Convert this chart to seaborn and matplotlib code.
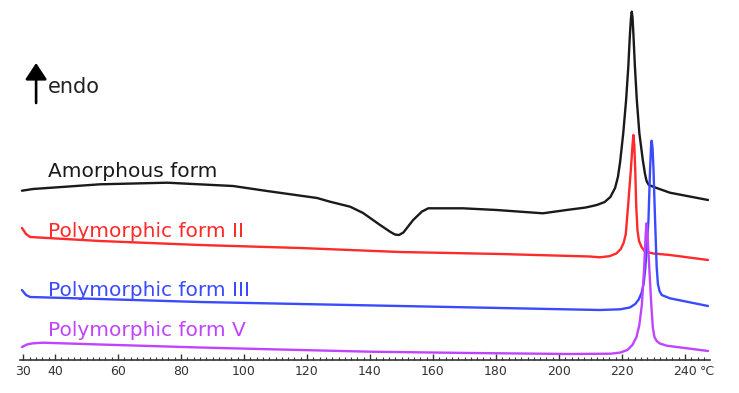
import matplotlib
matplotlib.use("Agg")
import matplotlib.pyplot as plt
import seaborn as sns
import pandas as pd

# ---- data (temperature in °C, heat flow in arbitrary stacked units, endo up) ----
amorphous_T = [29.5, 33.0, 54.3, 75.6, 96.5, 107.3, 123.2, 127.3, 133.7, 137.8, 143.2, 146.5, 147.9,
               149.2, 150.6, 153.7, 156.5, 158.5, 169.5, 180.2, 194.9, 202.4, 208.5, 212.0, 214.5,
               216.3, 217.8, 218.7, 219.4, 220.4, 221.3, 222.0, 222.5, 222.85, 223.1, 223.35, 223.6,
               224.1, 224.7, 225.5, 226.6, 227.3, 227.8, 228.5, 231.0, 235.2, 247.3]
amorphous_v = [169.3, 171, 175.7, 177.3, 174, 169, 162, 158.3, 153.3, 147, 135, 128, 125.5,
               125, 127.5, 140, 148.5, 151.7, 151.7, 150, 146.7, 150, 152.5, 155, 158,
               163, 172, 183, 198, 227, 260, 293.3, 325, 342, 348.3, 342, 327,
               293.3, 260, 227, 200, 186, 179, 175, 172, 167.3, 160]

form2_T = [29.5, 30.8, 32.1, 54.3, 86.0, 117.8, 149.5, 181.3, 209.8, 213.0, 216.0, 218.2, 219.6,
           220.5, 221.2, 222.0, 222.8, 223.3, 223.6, 223.9, 224.2, 224.5, 224.9, 225.4, 226.2,
           227.3, 230.0, 235.2, 247.3]
form2_v = [132, 126, 123, 119, 115, 112, 108, 106, 103.5, 102.7, 103.8, 106.5, 111,
           117, 126, 157, 190, 213.3, 225, 215, 190, 155, 130, 119, 113,
           108.3, 106.5, 105, 100]

form3_T = [29.5, 30.8, 32.1, 54.3, 86.0, 117.8, 149.5, 181.3, 213.0, 219.4, 222.5, 224.2, 225.3,
           226.2, 226.9, 227.4, 227.9, 228.4, 228.9, 229.2, 229.4, 229.7, 230.0, 230.5, 231.0,
           231.4, 231.9, 232.6, 235.2, 247.3]
form3_v = [70, 65, 63, 61, 58, 56, 54, 52, 50, 50.7, 52.5, 56, 60.5,
           67, 77, 92, 115, 140, 190, 212, 219.3, 212, 190, 140, 93.3,
           76, 69, 65, 61.7, 54]

form5_T = [29.5, 31.1, 33.0, 36.2, 54.3, 86.0, 117.8, 140.0, 171.7, 203.5, 216.5, 219.5, 221.7,
           223.3, 224.6, 225.5, 226.3, 227.0, 227.5, 227.8, 228.1, 228.7, 229.3, 229.8, 230.3,
           231.0, 232.0, 234.2, 247.3]
form5_v = [13, 15.5, 16.7, 17.3, 15.5, 12.5, 10, 8.3, 7, 6, 6.3, 7.5, 10,
           15, 23, 35, 55, 90, 125, 136.7, 125, 90, 55, 32, 23,
           19, 16.5, 14.3, 9]

series_names = ["Amorphous form", "Polymorphic form II", "Polymorphic form III", "Polymorphic form V"]
series_colors = ["#1a1a1a", "#ff2a2a", "#3a4bff", "#c044ff"]
label_T = [37.8, 37.8, 37.8, 37.8]
label_v = [183, 123, 64, 24]

major_ticks = [30, 40, 60, 80, 100, 120, 140, 160, 180, 200, 220, 240]
tick_labels = ["30", "40", "60", "80", "100", "120", "140", "160", "180", "200", "220", "240"]
minor_ticks = list(range(30, 248, 2))

# ---- plot ----
sns.set_theme(style="white")
plt.rcParams["font.family"] = ["DejaVu Sans"]

fig = plt.figure(figsize=(7.39, 3.93), dpi=100)
ax = fig.add_axes([0, 33 / 393, 1, 360 / 393])

frames = [
    pd.DataFrame({"T": amorphous_T, "v": amorphous_v}),
    pd.DataFrame({"T": form2_T, "v": form2_v}),
    pd.DataFrame({"T": form3_T, "v": form3_v}),
    pd.DataFrame({"T": form5_T, "v": form5_v}),
]
for df, col in zip(frames, series_colors):
    sns.lineplot(data=df, x="T", y="v", ax=ax, color=col, lw=1.7,
                 estimator=None, sort=False, solid_joinstyle="round", solid_capstyle="round")

for name, col, tx, ty in zip(series_names, series_colors, label_T, label_v):
    ax.text(tx, ty, name, color=col, fontsize=14.5, ha="left", va="baseline")

# endo arrow
ax.annotate("", xy=(34.0, 297), xytext=(34.0, 257),
            arrowprops=dict(arrowstyle="-|>,head_length=0.5,head_width=0.33",
                            color="black", lw=1.9, mutation_scale=20, shrinkA=0, shrinkB=0))
ax.text(37.8, 267, "endo", fontsize=15, color="#222222", ha="left", va="baseline")

ax.set_xlim(22.54, 257.14)
ax.set_ylim(0, 360)
for s in ["left", "right", "top"]:
    ax.spines[s].set_visible(False)
ax.spines["bottom"].set_bounds(28.9, 247.9)
ax.spines["bottom"].set_color("#333333")
ax.spines["bottom"].set_linewidth(1.2)

ax.set_xticks(major_ticks)
ax.set_xticklabels(tick_labels)
ax.set_xticks(minor_ticks, minor=True)
ax.tick_params(axis="x", which="major", direction="in", length=4, width=1.0,
               color="#333333", labelsize=9, labelcolor="#333333", pad=3.6, bottom=True)
ax.tick_params(axis="x", which="minor", direction="in", length=2.5, width=0.8,
               color="#333333", bottom=True)
ax.set_yticks([])
ax.set_xlabel("")
ax.set_ylabel("")
ax.text(244.7, -5, "°C", fontsize=9, color="#333333", ha="left", va="top", clip_on=False)

fig.savefig("out.png", dpi=100)
